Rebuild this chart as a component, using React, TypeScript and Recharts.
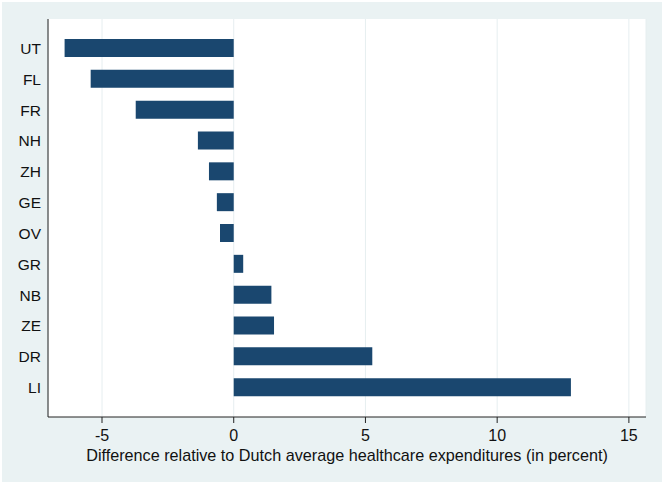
import React from "react";
import { BarChart, Bar, XAxis, YAxis, CartesianGrid } from "recharts";

const regions = ["UT", "FL", "FR", "NH", "ZH", "GE", "OV", "GR", "NB", "ZE", "DR", "LI"];
const differences = [-6.42, -5.43, -3.72, -1.36, -0.94, -0.64, -0.52, 0.36, 1.43, 1.53, 5.26, 12.8];
const xTicks = [-5, 0, 5, 10, 15];
const xTitle = "Difference relative to Dutch average healthcare expenditures (in percent)";

const data = regions.map((r, i) => ({ region: r, value: differences[i] }));

const FONT = "'Liberation Sans', Arial, Helvetica, sans-serif";

export default function App() {
  return (
    <div style={{ position: "absolute", left: 0, top: 0, width: 665, height: 485, background: "#ffffff" }}>
      <div style={{ position: "absolute", left: 2, top: 2, width: 660, height: 480, background: "#eaf2f3" }}>
        <BarChart
          width={660}
          height={480}
          data={data}
          layout="vertical"
          margin={{ top: 17, right: 16, left: 6, bottom: 15 }}
        >
          <CartesianGrid horizontal={false} vertical={true} fill="#ffffff" stroke="#e6eef0" strokeWidth={1} />
          <XAxis
            type="number"
            domain={[-7.05, 15.65]}
            ticks={xTicks}
            allowDataOverflow
            height={50}
            tickSize={6}
            tickMargin={7}
            stroke="#222"
            tick={{ fill: "#111", fontSize: 16, fontFamily: FONT }}
            axisLine={{ stroke: "#222", strokeWidth: 1 }}
            tickLine={{ stroke: "#222" }}
            label={{
              value: xTitle,
              position: "insideBottom",
              offset: 6,
              fill: "#111",
              fontSize: 16.2,
              fontFamily: FONT,
            }}
          />
          <YAxis
            type="category"
            dataKey="region"
            width={40}
            tickSize={0}
            tickMargin={7}
            tickLine={false}
            padding={{ top: 14, bottom: 14 }}
            axisLine={{ stroke: "#222", strokeWidth: 1 }}
            tick={{ fill: "#111", fontSize: 15.5, fontFamily: FONT }}
            interval={0}
          />
          <Bar dataKey="value" fill="#1a476f" barSize={18} isAnimationActive={false} />
        </BarChart>
      </div>
    </div>
  );
}
